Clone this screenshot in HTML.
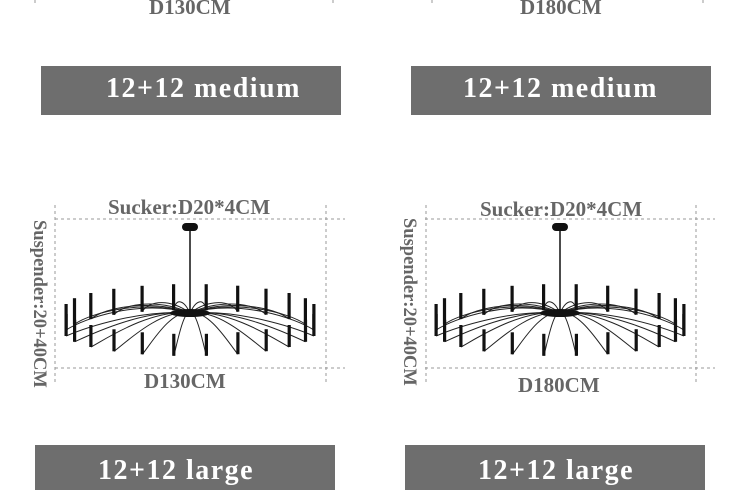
<!DOCTYPE html>
<html><head><meta charset="utf-8"><style>
html,body{margin:0;padding:0;background:#fff;}
body{width:750px;height:486px;overflow:hidden;position:relative;font-family:"Liberation Serif",serif;}
.t{position:absolute;font-weight:bold;color:#666;white-space:nowrap;}
.b{position:absolute;background:#6e6e6e;}
.bt{position:absolute;color:#fff;font-weight:bold;font-size:28px;letter-spacing:1.5px;white-space:nowrap;}
</style></head><body>
<svg width="750" height="486" style="position:absolute;left:0;top:0">
<g stroke="#999" stroke-width="1" stroke-dasharray="3,3" fill="none">
<line x1="35" y1="0" x2="35" y2="3"/><line x1="333" y1="0" x2="333" y2="3"/>
<line x1="432" y1="0" x2="432" y2="3"/><line x1="703" y1="0" x2="703" y2="3"/>
<line x1="55" y1="219" x2="345" y2="219"/><line x1="55" y1="368" x2="345" y2="368"/>
<line x1="55" y1="205" x2="55" y2="382"/><line x1="326" y1="205" x2="326" y2="382"/>
<line x1="425" y1="219" x2="715" y2="219"/><line x1="425" y1="368" x2="715" y2="368"/>
<line x1="426" y1="205" x2="426" y2="382"/><line x1="696" y1="205" x2="696" y2="382"/>
</g>
<g id="c1"></g><g id="c2"></g>
</svg>
<div class="t" style="left:149px;top:-5px;font-size:21px">D130CM</div>
<div class="t" style="left:520px;top:-5px;font-size:21px">D180CM</div>
<div class="b" style="left:41px;top:66px;width:300px;height:49px"></div>
<div class="b" style="left:411px;top:66px;width:300px;height:49px"></div>
<div class="bt" style="left:106px;top:73px">12+12 medium</div>
<div class="bt" style="left:463px;top:73px">12+12 medium</div>
<div class="t" style="left:108px;top:195px;font-size:21px">Sucker:D20*4CM</div>
<div class="t" style="left:480px;top:197px;font-size:21px">Sucker:D20*4CM</div>
<div class="t" style="left:144px;top:369px;font-size:21px">D130CM</div>
<div class="t" style="left:518px;top:373px;font-size:21px">D180CM</div>
<div class="t" style="left:38px;top:220px;font-size:18.5px;transform-origin:0 0;transform:rotate(90deg) translate(0,-11px)">Suspender:20+40CM</div>
<div class="t" style="left:408px;top:218px;font-size:18.5px;transform-origin:0 0;transform:rotate(90deg) translate(0,-11px)">Suspender:20+40CM</div>
<div class="b" style="left:35px;top:445px;width:300px;height:45px"></div>
<div class="b" style="left:405px;top:445px;width:300px;height:45px"></div>
<div class="bt" style="left:98px;top:455px">12+12 large</div>
<div class="bt" style="left:478px;top:455px">12+12 large</div>
<script>
function draw(id,cx){
 var g=document.getElementById(id),s='';
 var hy=313,cy=333,rx=125,ry=23;
 s+='<rect x="'+(cx-8)+'" y="223" width="16" height="8" rx="4" fill="#111"/>';
 s+='<line x1="'+cx+'" y1="230" x2="'+cx+'" y2="'+hy+'" stroke="#111" stroke-width="1.5"/>';
 var arms='',cand='';
 for(var i=0;i<24;i++){
  var t=i/24*2*Math.PI+0.13;
  var x=cx+rx*Math.cos(t), y=cy+ry*Math.sin(t);
  var back=Math.sin(t)<0;
  var c1x=cx+(x-cx)*0.4, c1y=hy-(back?14:4);
  var c2x=cx+(x-cx)*0.85, c2y=back?y-12:y-8;
  arms+='<path d="M'+cx+' '+hy+' C'+c1x.toFixed(1)+' '+c1y.toFixed(1)+' '+c2x.toFixed(1)+' '+c2y.toFixed(1)+' '+x.toFixed(1)+' '+y.toFixed(1)+'" stroke="#222" stroke-width="1" fill="none"/>';
  var h=back?26:22;
  cand+='<rect x="'+(x-1.6).toFixed(1)+'" y="'+(y-h).toFixed(1)+'" width="3.2" height="'+h+'" fill="#111"/>';
 }
 s+=arms+cand;
 s+='<ellipse cx="'+cx+'" cy="'+hy+'" rx="20" ry="4" fill="#111"/>';
 g.innerHTML=s;
}
draw('c1',190);draw('c2',560);
</script>
</body></html>
